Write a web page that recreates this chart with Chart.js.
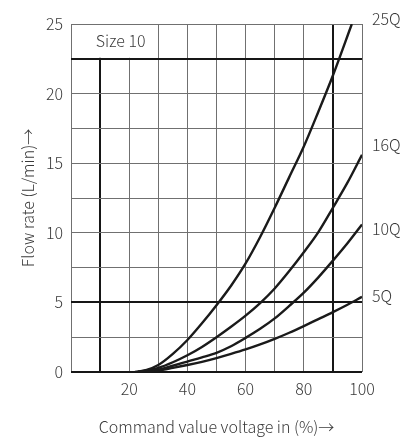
<!DOCTYPE html>
<html>
<head>
<meta charset="utf-8">
<script src="https://cdn.jsdelivr.net/npm/chart.js@4/dist/chart.umd.min.js"></script>
<style>
  html, body { margin: 0; padding: 0; background: #fff; }
  #wrap { width: 408px; height: 440px; }
</style>
</head>
<body>
<div id="wrap"><canvas id="c" width="408" height="440"></canvas></div>
<script>
// Flow rate vs. command value, valve size 10
const seriesNames = ['25Q', '16Q', '10Q', '5Q'];

const q25x = [22, 26, 30, 35, 40, 45, 50, 55, 60, 65, 70, 75, 80, 85, 90, 96.5];
const q25y = [0, 0.15, 0.5, 1.3, 2.3, 3.5, 4.8, 6.2, 7.8, 9.7, 11.8, 14.0, 16.2, 18.7, 21.3, 25];

const q16x = [23, 30, 35, 40, 45, 50, 55, 60, 65, 70, 75, 80, 85, 90, 95, 100];
const q16y = [0, 0.3, 0.7, 1.2, 1.8, 2.5, 3.25, 4.05, 4.95, 6.0, 7.25, 8.6, 10.05, 11.8, 13.6, 15.6];

const q10x = [23, 30, 35, 40, 45, 50, 55, 60, 65, 70, 75, 80, 85, 90, 95, 100];
const q10y = [0, 0.17, 0.45, 0.75, 1.05, 1.38, 1.85, 2.45, 3.1, 3.85, 4.75, 5.7, 6.8, 8.0, 9.25, 10.6];

const q5x = [23, 30, 35, 40, 45, 50, 55, 60, 65, 70, 75, 80, 85, 90, 95, 100];
const q5y = [0, 0.12, 0.3, 0.5, 0.73, 1.0, 1.3, 1.62, 1.98, 2.38, 2.82, 3.3, 3.8, 4.3, 4.83, 5.4];

// Flow level next to each curve name on the right
const nameLevels = [25.4, 16.3, 10.3, 5.5];

const xTicksShown = [20, 40, 60, 80, 100];
const heavyX = [10, 90];
const heavyY = [0, 5, 22.5];
const boxTitle = 'Size 10';

const FONT = "'Noto Sans CJK JP', 'Noto Sans', sans-serif";
const TXT = '#3a3a3a';

const pts = (xs, ys) => xs.map((x, i) => ({ x: x, y: ys[i] }));
const curves = [pts(q25x, q25y), pts(q16x, q16y), pts(q10x, q10y), pts(q5x, q5y)];

const datasets = curves.map((d, i) => ({
  label: seriesNames[i],
  data: d,
  borderColor: '#1a1a1a',
  borderWidth: 2.4,
  pointRadius: 0,
  fill: false,
  cubicInterpolationMode: 'monotone'
}));

const sizeBox = {
  id: 'sizeBox',
  beforeDatasetsDraw(chart) {
    const { ctx, scales: { x, y } } = chart;
    const l = x.getPixelForValue(0), r = x.getPixelForValue(30);
    const t = y.getPixelForValue(25), b = y.getPixelForValue(22.5);
    ctx.save();
    ctx.fillStyle = '#fff';
    ctx.fillRect(l + 1, t + 1, r - l - 1.5, b - t - 2);
    ctx.fillStyle = TXT;
    ctx.font = '300 16px ' + FONT;
    ctx.textAlign = 'center';
    ctx.textBaseline = 'middle';
    ctx.fillText(boxTitle, (l + r) / 2 + 6, (t + b) / 2);
    ctx.restore();
  }
};

const curveNames = {
  id: 'curveNames',
  afterDatasetsDraw(chart) {
    const { ctx, chartArea, scales: { y } } = chart;
    ctx.save();
    ctx.fillStyle = TXT;
    ctx.font = '300 16px ' + FONT;
    ctx.textAlign = 'left';
    ctx.textBaseline = 'middle';
    seriesNames.forEach((n, i) => {
      ctx.fillText(n, chartArea.right + 10, y.getPixelForValue(nameLevels[i]));
    });
    ctx.restore();
  }
};

new Chart(document.getElementById('c'), {
  type: 'line',
  data: { datasets: datasets },
  options: {
    responsive: false,
    animation: false,
    layout: { padding: { left: 0, right: 46, top: 24, bottom: 0 } },
    plugins: { legend: { display: false }, tooltip: { enabled: false } },
    scales: {
      x: {
        type: 'linear',
        min: 0, max: 100,
        afterFit(s) { s.height = 68; },
        afterBuildTicks(s) { s.ticks = []; for (let v = 0; v <= 100; v += 10) s.ticks.push({ value: v }); },
        ticks: {
          autoSkip: false,
          maxRotation: 0,
          padding: 7,
          color: TXT,
          font: { family: FONT, size: 16, weight: 300 },
          callback: v => xTicksShown.includes(v) ? String(v) : ''
        },
        grid: {
          drawTicks: false,
          color: c => heavyX.includes(c.tick && c.tick.value) ? '#161616' : '#707070',
          lineWidth: c => heavyX.includes(c.tick && c.tick.value) ? 2 : 1
        },
        border: { display: false },
        title: {
          display: true,
          text: 'Command value voltage in (%)→',
          color: TXT,
          font: { family: FONT, size: 16, weight: 300 },
          padding: { top: 20, bottom: 3 }
        }
      },
      y: {
        type: 'linear',
        min: 0, max: 25,
        afterFit(s) { s.width = 71; },
        afterBuildTicks(s) { s.ticks = []; for (let v = 0; v <= 25; v += 2.5) s.ticks.push({ value: v }); },
        ticks: {
          autoSkip: false,
          padding: 8,
          color: TXT,
          font: { family: FONT, size: 16, weight: 300 },
          callback: v => (v % 5 === 0) ? String(v) : ''
        },
        grid: {
          drawTicks: false,
          color: c => heavyY.includes(c.tick && c.tick.value) ? '#161616' : '#707070',
          lineWidth: c => heavyY.includes(c.tick && c.tick.value) ? 2 : 1
        },
        border: { display: false },
        title: {
          display: true,
          text: 'Flow rate (L/min)→',
          color: TXT,
          font: { family: FONT, size: 16, weight: 300 },
          padding: { top: 18, bottom: 0 }
        }
      }
    }
  },
  plugins: [sizeBox, curveNames]
});
</script>
</body>
</html>
